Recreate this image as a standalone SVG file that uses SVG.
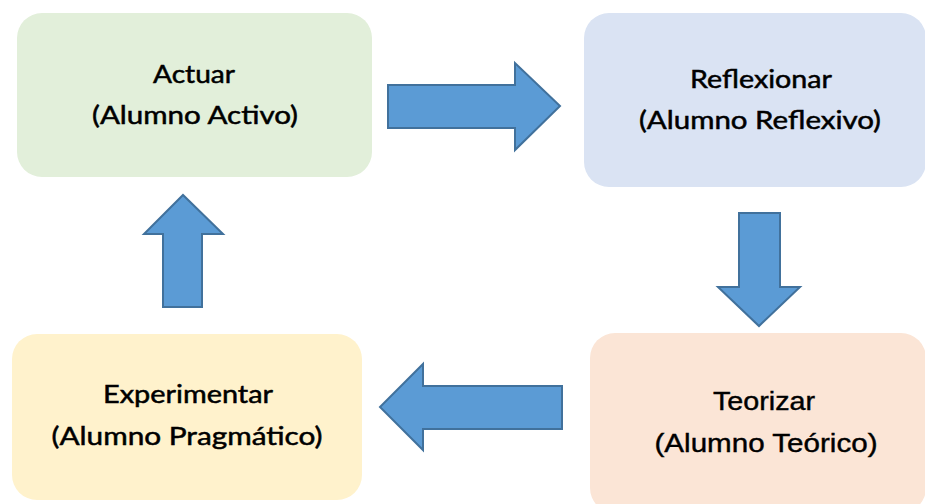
<svg xmlns="http://www.w3.org/2000/svg" width="925" height="504" viewBox="0 0 925 504">
<style>
.box{stroke:none}
.t{font-family:Lato,"Open Sans","Liberation Sans",sans-serif;font-size:25px;fill:#000;stroke:#000;stroke-width:0.5;text-anchor:middle}
.ta{font-family:"Liberation Sans",Arial,sans-serif;font-size:25px;fill:#000;stroke:#000;stroke-width:0.4;text-anchor:middle}
.arr{fill:#5b9bd5;stroke:#41719c;stroke-width:2;stroke-linejoin:miter}
</style>
<rect width="925" height="504" fill="#ffffff"/>
<g id="actuar">
<rect class="box" x="17" y="13" width="355" height="164" rx="25" fill="#e2efda"/>
<text class="t" x="194" y="83" textLength="82" lengthAdjust="spacingAndGlyphs">Actuar</text>
<text class="t" x="195" y="124" textLength="206" lengthAdjust="spacingAndGlyphs">(Alumno Activo)</text>
</g>
<g id="reflexionar">
<rect class="box" x="584" y="13" width="342" height="174" rx="25" fill="#dae3f3"/>
<text class="t" x="761" y="88" textLength="142" lengthAdjust="spacingAndGlyphs">Reflexionar</text>
<text class="t" x="760" y="129" textLength="242" lengthAdjust="spacingAndGlyphs">(Alumno Reflexivo)</text>
</g>
<g id="teorizar">
<rect class="box" x="590" y="333" width="336" height="180" rx="25" fill="#fbe5d6"/>
<text class="ta" x="764" y="410" textLength="102" lengthAdjust="spacingAndGlyphs">Teorizar</text>
<text class="ta" x="766" y="452" textLength="223" lengthAdjust="spacingAndGlyphs">(Alumno Teórico)</text>
</g>
<g id="experimentar">
<rect class="box" x="12" y="334" width="350" height="166" rx="25" fill="#fff2cc"/>
<text class="t" x="188" y="403" textLength="170" lengthAdjust="spacingAndGlyphs">Experimentar</text>
<text class="t" x="187" y="445" textLength="271" lengthAdjust="spacingAndGlyphs">(Alumno Pragmático)</text>
</g>
<g id="connectors">
<path class="arr" d="M388,85 H515 V63 L560,106 L515,150 V128 H388 Z"/>
<path class="arr" d="M739,213 H780 V287 H800 L759,326 L718,287 H739 Z"/>
<path class="arr" d="M562,386 H423 V364 L380,407 L423,450 V429 H562 Z"/>
<path class="arr" d="M163,307 V234 H144 L183,195 L223,234 H202 V307 Z"/>
</g>
</svg>
